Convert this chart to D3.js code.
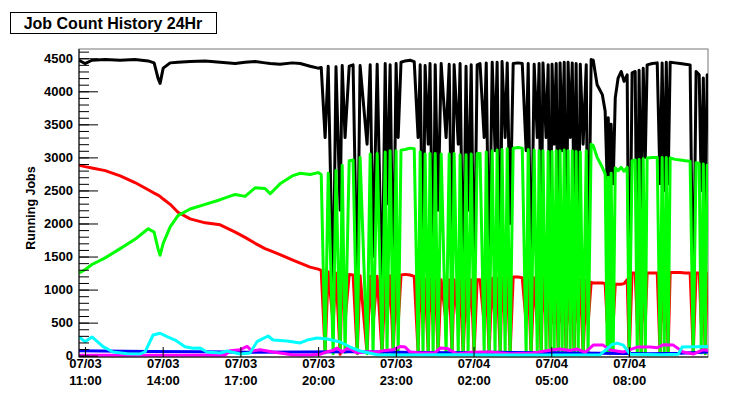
<!DOCTYPE html>
<html>
<head>
<meta charset="utf-8">
<script src="https://cdn.jsdelivr.net/npm/d3@7"></script>
<style>
body { margin: 0; background: #fff; }
svg { display: block; font-family: "Liberation Sans", Arial, Helvetica, sans-serif; }
</style>
</head>
<body>
<div class="chart-container"></div>
<script>
// Hours counted from 07/03 00:00 (24 = 07/04 00:00)
const hours = [
  10.77, 11.00, 11.27, 11.78, 12.36, 12.93, 13.44, 13.67, 13.82, 13.90, 14.02, 14.29, 14.59,
  15.06, 15.64, 16.22, 16.80, 17.18, 17.57, 17.95, 18.15, 18.53, 19.00, 19.31, 19.69, 20.00,
  20.12, 20.27, 20.39, 20.58, 20.69, 20.85, 20.93, 21.04, 21.20, 21.35, 21.51, 21.62, 21.89,
  22.01, 22.12, 22.28, 22.47, 22.59, 22.66, 22.78, 22.90, 23.01, 23.09, 23.20, 23.36, 23.55,
  23.71, 23.86, 23.94, 24.05, 24.13, 24.25, 24.32, 24.44, 24.52, 24.63, 24.75, 24.94, 25.06,
  25.17, 25.25, 25.41, 25.48, 25.60, 25.71, 25.79, 25.91, 26.02, 26.14, 26.25, 26.41, 26.49,
  26.60, 26.72, 26.83, 26.91, 27.03, 27.10, 27.22, 27.30, 27.41, 27.53, 27.72, 27.88, 28.03,
  28.11, 28.22, 28.34, 28.46, 28.53, 28.61, 28.68, 28.80, 28.88, 28.96, 29.03, 29.11, 29.19,
  29.27, 29.34, 29.42, 29.50, 29.57, 29.65, 29.73, 29.81, 29.88, 29.96, 30.04, 30.12, 30.23,
  30.35, 30.42, 30.54, 30.62, 30.77, 30.97, 31.08, 31.16, 31.20, 31.27, 31.31, 31.39, 31.47,
  31.58, 31.70, 31.81, 31.93, 32.01, 32.12, 32.24, 32.32, 32.39, 32.47, 32.55, 32.63, 32.70,
  32.90, 33.09, 33.20, 33.28, 33.36, 33.44, 33.51, 33.59, 33.78, 33.98, 34.17, 34.36, 34.48,
  34.59, 34.71, 34.79, 34.87, 34.94, 35.02, 35.05
];
const blackJobs = [
  4470, 4420, 4470, 4480, 4470, 4480, 4460, 4430, 4200, 4120, 4350, 4430, 4440,
  4450, 4460, 4440, 4420, 4440, 4450, 4430, 4420, 4410, 4430, 4420, 4380, 4350,
  4360, 3300, 4380, 800, 4370, 2200, 4390, 3300, 4380, 4400, 900, 4390, 3200,
  4400, 1500, 4410, 800, 4420, 2300, 4400, 900, 4420, 3300, 4440, 4460, 4470,
  4450, 3300, 4400, 1000, 4390, 3200, 4420, 900, 4400, 2200, 4420, 3300, 4410,
  1200, 4400, 3200, 4420, 800, 4380, 2200, 4400, 900, 4400, 4420, 3300, 4430,
  1100, 4440, 3100, 4440, 700, 4450, 3300, 4430, 2000, 4420, 4430, 4420, 3100,
  4420, 900, 4410, 3300, 4420, 1500, 4430, 3300, 4400, 800, 4410, 3200, 4420,
  1200, 4430, 3100, 4440, 900, 4440, 3300, 4430, 2200, 4420, 1000, 4410, 3200,
  4400, 800, 4480, 4470, 4100, 3950, 3700, 2600, 3600, 2500, 3500, 2600, 3900,
  4200, 4300, 4150, 4250, 200, 4280, 4300, 700, 4320, 2000, 4350, 3000, 4400,
  4420, 4430, 2600, 4430, 2500, 4440, 2600, 4440, 4430, 4420, 4410, 4400, 400,
  4300, 4250, 2500, 4200, 2000, 4250, 4260
];
const greenJobs = [
  1250, 1300, 1380, 1480, 1620, 1760, 1920, 1870, 1620, 1520, 1700, 1950, 2120,
  2220, 2290, 2360, 2440, 2410, 2540, 2530, 2450, 2600, 2720, 2760, 2740, 2770,
  2740, 40, 2760, 30, 2800, 60, 2880, 50, 2950, 2960, 30, 3000, 30,
  3050, 40, 3060, 20, 3080, 50, 3100, 30, 3100, 40, 3110, 3120, 3140,
  3130, 40, 3080, 30, 3050, 40, 3060, 30, 3060, 50, 3050, 30, 3050,
  40, 3060, 30, 3040, 30, 3040, 60, 3050, 30, 3060, 3060, 30, 3080,
  30, 3100, 40, 3110, 30, 3120, 40, 3130, 30, 3140, 3150, 3140, 40,
  3120, 30, 3110, 40, 3100, 30, 3100, 30, 3090, 40, 3090, 30, 3100,
  30, 3100, 40, 3110, 30, 3100, 40, 3100, 30, 3090, 30, 3080, 40,
  3100, 30, 3200, 3180, 3000, 2850, 2750, 40, 2700, 30, 2760, 40, 2840,
  2800, 2850, 2790, 2850, 20, 2950, 2960, 30, 2970, 40, 2980, 30, 2990,
  3000, 3000, 30, 3000, 40, 3000, 30, 2990, 2970, 2960, 2950, 2940, 30,
  2920, 2910, 40, 2900, 30, 2880, 2880
];
const redJobs = [
  2880, 2860, 2840, 2800, 2720, 2620, 2510, 2460, 2430, 2410, 2370, 2290, 2170,
  2070, 2010, 1980, 1870, 1790, 1700, 1620, 1590, 1530, 1450, 1400, 1340, 1310,
  1290, 60, 1270, 500, 1250, 20, 1240, 520, 1230, 1220, 30, 1210, 40,
  1200, 480, 1200, 20, 1200, 500, 1210, 30, 1210, 480, 1220, 1230, 1220,
  1200, 40, 1170, 500, 1160, 30, 1160, 480, 1160, 20, 1150, 500, 1150,
  30, 1150, 480, 1140, 20, 1140, 500, 1150, 30, 1150, 1150, 480, 1160,
  30, 1170, 500, 1170, 20, 1180, 480, 1180, 30, 1190, 1190, 1180, 500,
  1180, 30, 1180, 480, 1180, 20, 1180, 500, 1170, 30, 1170, 480, 1170,
  20, 1160, 500, 1160, 30, 1160, 480, 1150, 20, 1150, 500, 1150, 30,
  1140, 480, 1110, 1100, 1100, 1100, 1090, 500, 1080, 30, 1080, 480, 1080,
  1080, 1080, 1090, 1150, 20, 1250, 1250, 480, 1250, 30, 1250, 500, 1250,
  1250, 1250, 30, 1260, 500, 1260, 30, 1260, 1260, 1260, 1250, 1250, 30,
  1250, 1250, 480, 1250, 30, 1240, 1240
];

const cyanHours = [
  10.77, 11.00, 11.27, 11.70, 12.08, 12.63, 13.13, 13.32, 13.63, 13.90, 14.17, 14.48, 14.86,
  15.17, 15.44, 15.71, 16.22, 16.49, 16.99, 17.37, 17.64, 18.07, 18.26, 18.80, 19.31, 19.58,
  19.96, 20.35, 20.85, 21.24, 21.62, 22.28, 23.17, 25.10, 27.03, 28.96, 30.89, 31.08, 31.35,
  31.54, 31.78, 32.05, 33.20, 33.90, 34.05, 34.55, 35.05
];
const cyanJobs = [
  287, 212, 283, 136, 56, 30, 26, 56, 313, 339, 287, 237, 136,
  112, 116, 56, 41, 71, 26, 41, 212, 298, 237, 222, 192, 237,
  268, 253, 207, 131, 71, 15, 10, 15, 10, 12, 15, 80, 170,
  190, 160, 20, 15, 20, 130, 135, 140
];

const blueHours = [10.77, 11.58, 13.51, 15.44, 17.37, 19.31, 21.24, 23.17, 25.10, 27.03, 28.96, 30.89, 32.82, 33.98, 35.05];
const blueJobs = [75, 70, 65, 60, 50, 55, 60, 50, 45, 50, 45, 35, 30, 35, 55];

const magentaHours = [
  10.77, 13.51, 16.41, 16.60, 16.99, 17.26, 17.45, 17.76, 18.26, 18.73, 19.03, 19.69, 20.08,
  20.35, 20.58, 20.73, 20.93, 21.12, 21.24, 21.51, 21.81, 22.28, 22.59, 22.90, 23.17, 23.36,
  23.55, 23.94, 24.52, 24.71, 24.98, 25.36, 25.87, 26.64, 27.41, 28.19, 29.07, 29.34, 29.73,
  30.00, 30.31, 30.62, 31.00, 31.27, 31.77, 32.32, 32.82, 33.09, 33.32, 33.71, 34.09, 34.48,
  34.87, 35.05
];
const magentaJobs = [
  5, 5, 8, 75, 90, 140, 70, 90, 55, 30, 10, 10, 20,
  60, 80, 115, 55, 110, 100, 40, 60, 55, 80, 90, 140, 130,
  55, 40, 45, 115, 110, 25, 50, 55, 30, 35, 90, 100, 80,
  100, 50, 160, 160, 85, 55, 130, 130, 120, 165, 160, 55, 25,
  90, 80
];

const tickHours = [11, 14, 17, 20, 23, 26, 29, 32];
const tickDates = ["07/03", "07/03", "07/03", "07/03", "07/03", "07/04", "07/04", "07/04"];
const tickTimes = ["11:00", "14:00", "17:00", "20:00", "23:00", "02:00", "05:00", "08:00"];
const yMajor = [0, 500, 1000, 1500, 2000, 2500, 3000, 3500, 4000, 4500];

// Dimensions
const W = 738, H = 399;
const frame = { left: 79, right: 708, top: 49, bottom: 357 };
const fontFamily = "'Liberation Sans', Arial, Helvetica, sans-serif";

const svg = d3.select(".chart-container")
  .append("svg")
    .attr("width", W)
    .attr("height", H);

svg.append("rect").attr("width", W).attr("height", H).attr("fill", "#fff");

const x = d3.scaleLinear().domain([10.77, 35.05]).range([frame.left, frame.right]);
const y = d3.scaleLinear().domain([-20, 4640]).range([frame.bottom, frame.top]);

// frame
svg.append("rect")
  .attr("x", frame.left).attr("y", frame.top)
  .attr("width", frame.right - frame.left).attr("height", frame.bottom - frame.top)
  .attr("fill", "none").attr("stroke", "#777").attr("stroke-width", 1);

svg.append("clipPath").attr("id", "plot-clip")
  .append("rect")
    .attr("x", frame.left).attr("y", frame.top)
    .attr("width", frame.right - frame.left).attr("height", frame.bottom - frame.top);

const line = d3.line().x(d => x(d[0])).y(d => y(d[1]));
const plot = svg.append("g").attr("clip-path", "url(#plot-clip)");

// draw order: black first, then red, green, and the small ones on top
const series = [
  { h: hours, v: blackJobs, color: "#000000" },
  { h: hours, v: redJobs, color: "#ff0000" },
  { h: hours, v: greenJobs, color: "#00ff00" },
  { h: blueHours, v: blueJobs, color: "#0000ff" },
  { h: magentaHours, v: magentaJobs, color: "#ff00ff" },
  { h: cyanHours, v: cyanJobs, color: "#00ffff" }
];

series.forEach(s => {
  plot.append("path")
    .datum(s.h.map((t, i) => [t, s.v[i]]))
    .attr("fill", "none")
    .attr("stroke", s.color)
    .attr("stroke-width", 3)
    .attr("stroke-linejoin", "round")
    .attr("d", line);
});

// y axis: minor ticks every 100, majors every 500, all pointing into the frame
const gY = svg.append("g").attr("transform", `translate(${frame.left},0)`);
gY.call(d3.axisLeft(y).tickValues(d3.range(0, 4601, 100)).tickSize(-10).tickFormat(""))
  .select(".domain").remove();

const gYMajor = svg.append("g").attr("transform", `translate(${frame.left},0)`);
gYMajor.call(d3.axisLeft(y).tickValues(yMajor).tickFormat(d3.format("d"))
  .tickSizeInner(-19).tickSizeOuter(0).tickPadding(6));
gYMajor.select(".domain").attr("d", `M0,${frame.top}V${frame.bottom}`).attr("stroke", "#000");
gYMajor.selectAll("text")
  .attr("font-size", 13).attr("font-weight", "bold")
  .attr("font-family", fontFamily).attr("fill", "#000");

// x axis with two-line date/time labels
const gX = svg.append("g").attr("transform", `translate(0,${frame.bottom})`);
gX.call(d3.axisBottom(x).tickValues(tickHours).tickSizeInner(-10).tickSizeOuter(0));
gX.select(".domain").attr("d", `M${frame.left},0H${frame.right}`).attr("stroke", "#000");
gX.selectAll(".tick text").each(function(d, i) {
  const t = d3.select(this).text(null).attr("y", 11).attr("dy", null)
    .attr("font-size", 13).attr("font-weight", "bold")
    .attr("font-family", fontFamily).attr("fill", "#000");
  t.append("tspan").attr("x", 0).text(tickDates[i]);
  t.append("tspan").attr("x", 0).attr("dy", 17).text(tickTimes[i]);
});

// y title
svg.append("text")
  .attr("transform", "translate(35,208) rotate(-90)")
  .attr("text-anchor", "middle")
  .attr("font-size", 12.5).attr("font-weight", "bold")
  .attr("font-family", fontFamily)
  .text("Running Jobs");

// title box
svg.append("rect")
  .attr("x", 10.5).attr("y", 12.5).attr("width", 206).attr("height", 21)
  .attr("fill", "#fff").attr("stroke", "#000");
svg.append("text")
  .attr("x", 113).attr("y", 28.5)
  .attr("text-anchor", "middle")
  .attr("font-size", 16).attr("font-weight", "bold")
  .attr("font-family", fontFamily)
  .text("Job Count History 24Hr");
</script>
</body>
</html>
